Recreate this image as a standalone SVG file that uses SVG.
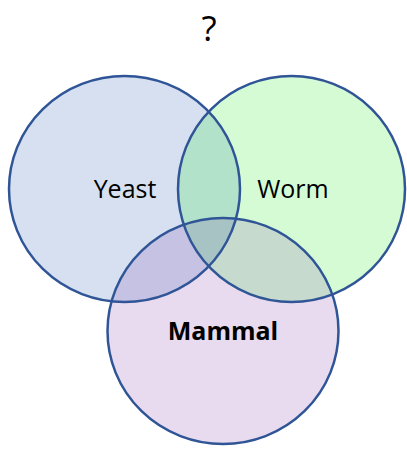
<svg xmlns="http://www.w3.org/2000/svg" width="407" height="449" viewBox="0 0 407 449">
<style>
.lbl{font-family:"Open Sans","Liberation Sans",sans-serif;font-size:25px;fill:#000;text-anchor:middle}
.edge{fill:none;stroke:#2F5597;stroke-width:2.5}
</style>
<defs>
<ellipse id="eY" cx="124.5" cy="189" rx="115.5" ry="113"/>
<ellipse id="eW" cx="291.5" cy="189" rx="113.5" ry="113"/>
<ellipse id="eM" cx="223" cy="331" rx="115.5" ry="113"/>
<clipPath id="cY"><use href="#eY"/></clipPath>
<clipPath id="cW"><use href="#eW"/></clipPath>
</defs>
<rect width="407" height="449" fill="#fff"/>
<text class="lbl" x="209" y="41" style="font-size:35px">?</text>
<g id="yeast"><use href="#eY" fill="#D7E0F1"/></g>
<g id="worm"><use href="#eW" fill="#D5FBD5"/></g>
<g id="mammal"><use href="#eM" fill="#E8DBEF"/></g>
<g id="overlaps">
<use href="#eW" fill="#B2E2CA" clip-path="url(#cY)"/>
<use href="#eM" fill="#C5C2E4" clip-path="url(#cY)"/>
<use href="#eM" fill="#C6DBCE" clip-path="url(#cW)"/>
<g clip-path="url(#cW)"><use href="#eM" fill="#A7C3C4" clip-path="url(#cY)"/></g>
</g>
<g id="outlines">
<use href="#eY" class="edge"/>
<use href="#eW" class="edge"/>
<use href="#eM" class="edge"/>
</g>
<g id="labels">
<text class="lbl" x="125" y="198">Yeast</text>
<text class="lbl" x="293" y="198">Worm</text>
<text class="lbl" x="223" y="340" font-weight="bold">Mammal</text>
</g>
</svg>
